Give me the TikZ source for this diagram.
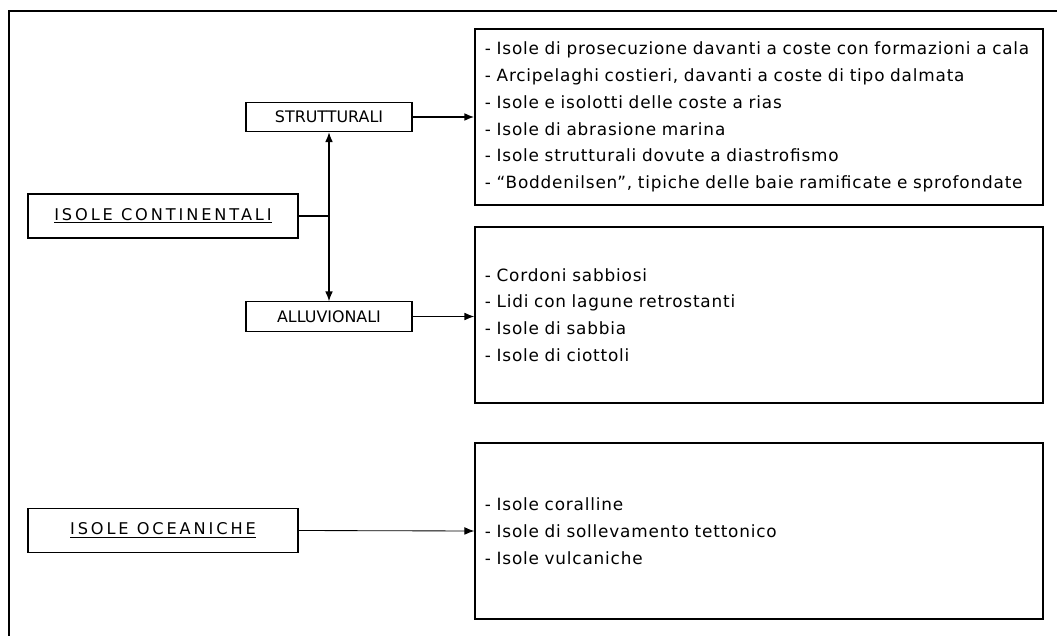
\documentclass[tikz,border=0pt]{standalone}
\usepackage{fontspec}
\setmainfont{DejaVu Sans}
\newfontfamily\headfont[LetterSpace=18]{DejaVu Sans}
\newfontfamily\listfont[LetterSpace=4.8]{DejaVu Sans}
\usetikzlibrary{arrows.meta}

\begin{document}
\begin{tikzpicture}[x=0.025cm, y=-0.025cm]
\tikzstyle{every node}=[font=\fontsize{11.3}{13}\selectfont]
\tikzset{
  typebox/.style={draw, line width=0.8pt, minimum width=6.75cm, minimum height=1.1cm,
    font=\headfont\fontsize{11.5}{13}\selectfont},
  subbox/.style={draw, line width=0.8pt, minimum width=4.15cm, minimum height=0.73cm},
  listbox/.style={draw, line width=0.9pt, text width=13.7cm, inner xsep=0.25cm,
    minimum height=4.4cm, align=left, font=\listfont\fontsize{12}{19}\selectfont},
  link/.style={-{Latex[length=7pt,width=5.5pt]}, line width=0.8pt}
}
\useasboundingbox (0,0) rectangle (1057,636);
% frame
\draw [line width=0.8pt] (9,636) -- (9,11) -- (1057,11);

% isole continentali
\node [typebox] (cont) at (163,216) {\underline{ISOLE CONTINENTALI}};
\node [subbox] (strutt) at (329,117) {STRUTTURALI};
\node [subbox] (alluv) at (329,316.5) {ALLUVIONALI};
\node [listbox] (strlist) at (759,117) {- Isole di prosecuzione davanti a coste con formazioni a cala\\
- Arcipelaghi costieri, davanti a coste di tipo dalmata\\
- Isole e isolotti delle coste a rias\\
- Isole di abrasione marina\\
- Isole strutturali dovute a diastrofismo\\
- “Boddenilsen”, tipiche delle baie ramificate e sprofondate};
\node [listbox] (allist) at (759,315) {- Cordoni sabbiosi\\
- Lidi con lagune retrostanti\\
- Isole di sabbia\\
- Isole di ciottoli};

% isole oceaniche
\node [typebox] (ocean) at (163,530.5) {\underline{ISOLE OCEANICHE}};
\node [listbox] (oclist) at (759,531) {- Isole coralline\\
- Isole di sollevamento tettonico\\
- Isole vulcaniche};

\draw [line width=0.9pt] (cont.east) -- (cont.east -| strutt.south);
\draw [{Latex[length=7pt,width=5.5pt]}-{Latex[length=7pt,width=5.5pt]}, line width=1pt] (strutt.south) -- (alluv.north);
\draw [link, line width=1.1pt] (strutt.east) -- (strlist.west);
\draw [link] (alluv.east) -- (allist.west |- alluv.east);
\draw [link, line width=0.6pt] (ocean.east) -- (oclist.west);
\end{tikzpicture}
\end{document}
